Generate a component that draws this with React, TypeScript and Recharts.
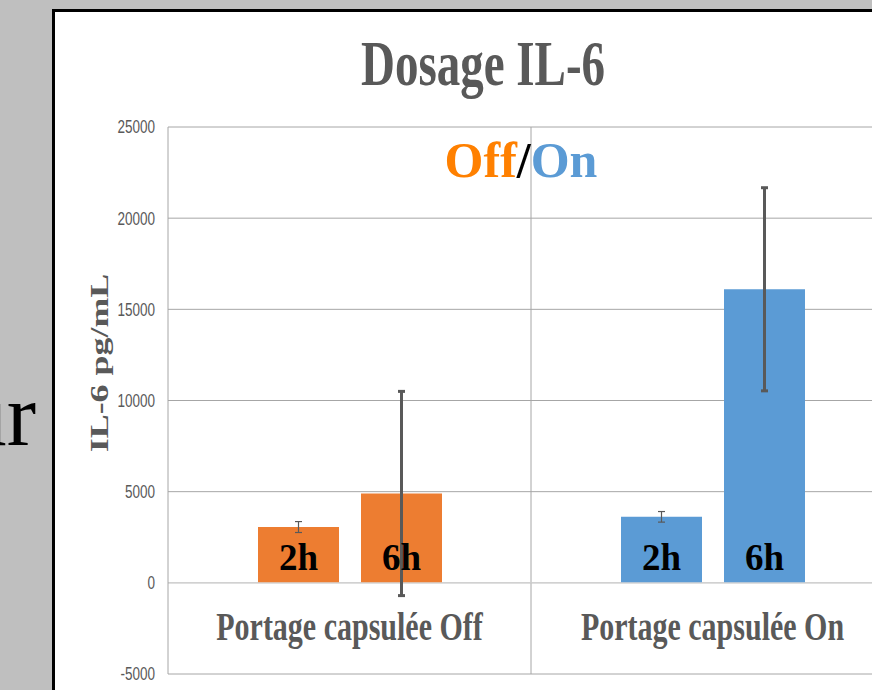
import * as React from "react";
import {
  BarChart,
  Bar,
  XAxis,
  YAxis,
  CartesianGrid,
  ErrorBar,
  LabelList,
  Cell,
  ReferenceLine,
} from "recharts";

// ---------------------------------------------------------------------------
// Data
// ---------------------------------------------------------------------------
const groups = ["Portage capsulée Off", "Portage capsulée On"];
const mean2h = [3060, 3620];
const err2h = [300, 290];
const mean6h = [4900, 16100];
const err6h = [5600, 5570];
const groupColors = ["#ED7D31", "#5B9BD5"];
const yTicks = [-5000, 0, 5000, 10000, 15000, 20000, 25000];
const timeLabels = ["2h", "6h"];

const rows = groups.map((g, i) => ({
  group: g,
  h2: mean2h[i],
  e2: err2h[i],
  h6: mean6h[i],
  e6: err6h[i],
}));

const SERIF = "'Liberation Serif', 'Times New Roman', serif";
const SANS = "'Liberation Sans', Arial, sans-serif";
const GREY = "#595959";

// ---------------------------------------------------------------------------
// Ticks and labels
// ---------------------------------------------------------------------------
function YTick({ x, y, payload }: any) {
  return (
    <text
      transform={`translate(${x},${y}) scale(1,1.35)`}
      textAnchor="end"
      dy="0.35em"
      fontSize={13.5}
      fontFamily={SANS}
      fill={GREY}
    >
      {payload.value}
    </text>
  );
}

// category names sit inside the plot, between 0 and the bottom line
function XTick({ x, y, payload }: any) {
  return (
    <text
      transform={`translate(${x},${y - 34}) scale(1,1.35)`}
      textAnchor="middle"
      fontSize={30}
      fontWeight="bold"
      fontFamily={SERIF}
      fill={GREY}
    >
      {payload.value}
    </text>
  );
}

const barLabel = (text: string) => (p: any) => {
  const x = Number(p.x) + Number(p.width) / 2;
  const y = Number(p.y) + Number(p.height) - 13;
  return (
    <text x={x} y={y} textAnchor="middle" fontSize={37} fontWeight="bold" fontFamily={SERIF} fill="#000">
      {text}
    </text>
  );
};

// ---------------------------------------------------------------------------
// Main component
// ---------------------------------------------------------------------------
export default function App() {
  return (
    <div
      style={{
        position: "absolute",
        left: 0,
        top: 0,
        width: 872,
        height: 690,
        overflow: "hidden",
        background: "#bfbfbf",
      }}
    >
      <svg width={60} height={690} style={{ position: "absolute", left: 0, top: 0 }}>
        <text x={36} y={445} textAnchor="end" fontSize={88} fontFamily={SERIF} fill="#000">
          ur
        </text>
      </svg>
      <div
        style={{
          position: "absolute",
          left: 52,
          top: 9,
          width: 900,
          height: 720,
          background: "#fff",
          borderLeft: "3px solid #000",
          borderTop: "3px solid #000",
        }}
      />
      <div style={{ position: "absolute", left: 0, top: 0 }}>
        <BarChart
          width={900}
          height={700}
          data={rows}
          margin={{ top: 127, right: 6, bottom: 0, left: 0 }}
          barSize={81}
          barGap={22}
        >
          <CartesianGrid
            stroke="#a6a6a6"
            verticalCoordinatesGenerator={({ offset }: any) => [offset.left + offset.width / 2]}
          />
          <XAxis
            dataKey="group"
            height={26}
            axisLine={false}
            tickLine={false}
            tickSize={0}
            tickMargin={0}
            tick={<XTick />}
            interval={0}
          />
          <YAxis
            width={168}
            domain={[-5000, 25000]}
            ticks={yTicks}
            interval={0}
            axisLine={{ stroke: "#a6a6a6" }}
            tickLine={false}
            tickSize={0}
            tickMargin={13}
            tick={<YTick />}
          />
          <ReferenceLine y={0} stroke="#d9d9d9" />
          <Bar dataKey="h2" isAnimationActive={false}>
            {rows.map((r, i) => (
              <Cell key={r.group} fill={groupColors[i]} />
            ))}
            <LabelList dataKey="h2" content={barLabel(timeLabels[0])} />
            <ErrorBar dataKey="e2" direction="y" width={3.5} strokeWidth={1.2} stroke={GREY} isAnimationActive={false} />
          </Bar>
          <Bar dataKey="h6" isAnimationActive={false}>
            {rows.map((r, i) => (
              <Cell key={r.group} fill={groupColors[i]} />
            ))}
            <LabelList dataKey="h6" content={barLabel(timeLabels[1])} />
            <ErrorBar dataKey="e6" direction="y" width={3.5} strokeWidth={3} stroke={GREY} isAnimationActive={false} />
          </Bar>
        </BarChart>
      </div>
      <svg
        width={872}
        height={690}
        style={{ position: "absolute", left: 0, top: 0, pointerEvents: "none" }}
      >
        <text
          transform="translate(483,85) scale(1,1.35)"
          textAnchor="middle"
          fontSize={47}
          fontWeight="bold"
          fontFamily={SERIF}
          fill={GREY}
        >
          Dosage IL-6
        </text>
        <text x={521} y={177} textAnchor="middle" fontSize={50} fontWeight="bold" fontFamily={SERIF}>
          <tspan fill="#FF8000">Off</tspan>
          <tspan fill="#000">/</tspan>
          <tspan fill="#5B9BD5">On</tspan>
        </text>
        <text
          transform="translate(108,363) rotate(-90) scale(1.38,1)"
          textAnchor="middle"
          fontSize={26}
          fontWeight="bold"
          fontFamily={SERIF}
          fill={GREY}
        >
          IL-6 pg/mL
        </text>
      </svg>
    </div>
  );
}
